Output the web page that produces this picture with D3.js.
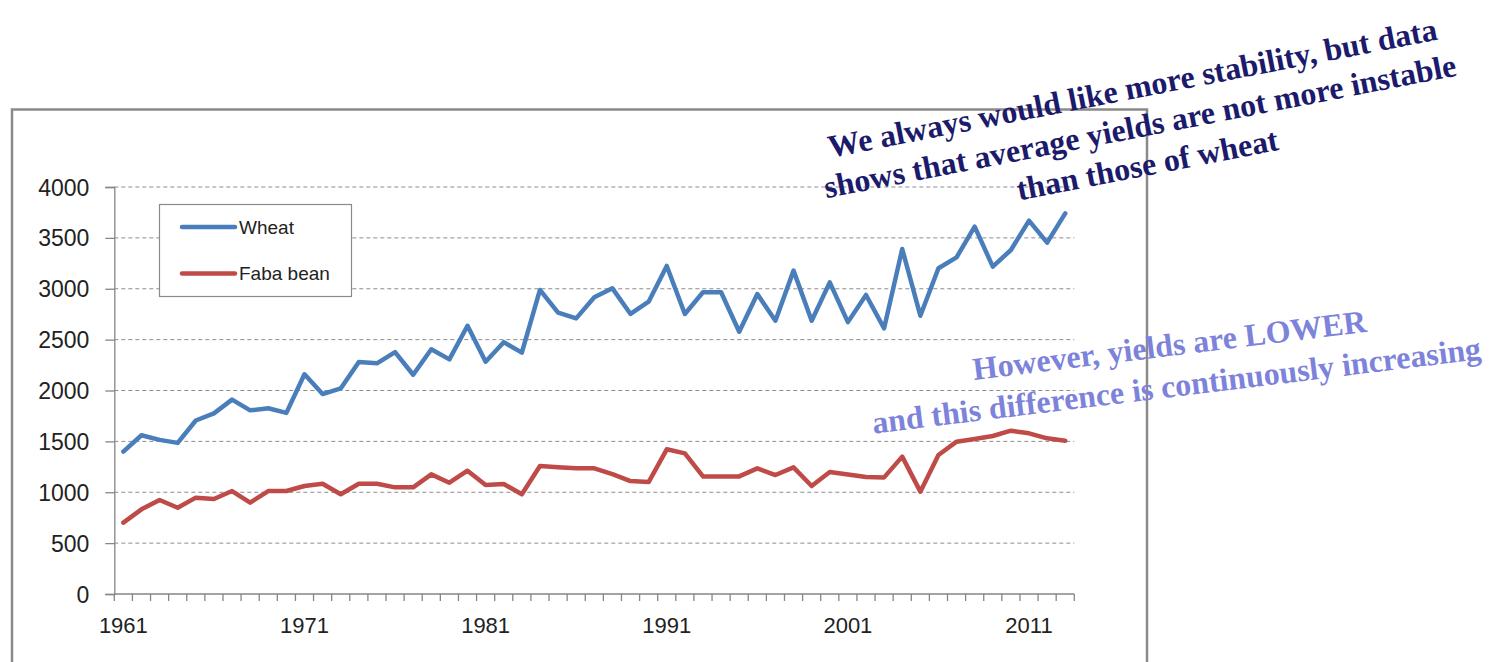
<!DOCTYPE html>
<html>
<head>
<meta charset="utf-8">
<script src="https://cdn.jsdelivr.net/npm/d3@7"></script>
<style>
  html, body { margin: 0; padding: 0; background: #fff; }
  svg { display: block; }
</style>
</head>
<body>
<svg id="chart" width="1497" height="662"></svg>
<script>
// Yields (kg/ha), 1961–2013
const years = d3.range(1961, 2014);
const wheat = [
  1400, 1560, 1515, 1485, 1705, 1775, 1910, 1805, 1825, 1780,
  2160, 1965, 2020, 2280, 2267, 2378, 2155, 2405, 2306, 2636,
  2283, 2475, 2372, 2988, 2765, 2709, 2916, 3004, 2752, 2873,
  3224, 2752, 2965, 2965, 2578, 2948, 2686, 3178, 2686, 3063,
  2672, 2939, 2611, 3391, 2735, 3201, 3309, 3610, 3217, 3381,
  3669, 3453, 3741
];
const fabaBean = [
  701, 832, 924, 848, 947, 934, 1012, 898, 1012, 1012,
  1061, 1084, 980, 1084, 1084, 1048, 1048, 1176, 1094, 1212,
  1071, 1081, 980, 1258, 1245, 1235, 1235, 1179, 1110, 1100,
  1422, 1382, 1156, 1156, 1156, 1235, 1169, 1245, 1061, 1199,
  1174, 1150, 1146, 1350, 1006, 1366, 1497, 1523, 1553, 1605,
  1579, 1530, 1507
];
const seriesNames = ["Wheat", "Faba bean"];
const seriesColors = ["#4a7ebb", "#be4b48"];
const yTicks = [0, 500, 1000, 1500, 2000, 2500, 3000, 3500, 4000];
const xLabelYears = [1961, 1971, 1981, 1991, 2001, 2011];
const noteTop = [
  "We always would like more stability, but data",
  "shows that average yields are not more instable",
  "than those of wheat"
];
const noteBottom = [
  "However, yields are LOWER",
  "and this difference is continuously increasing"
];

const svg = d3.select("#chart");
const axisColor = "#868686";
const labelFont = "'Liberation Sans', Arial, sans-serif";
const noteFont = "'Liberation Serif', 'Times New Roman', serif";

// Outer chart frame
svg.append("path")
  .attr("d", "M12,662 V109.5 H1147 V662")
  .attr("fill", "none")
  .attr("stroke", "#8a8a8a")
  .attr("stroke-width", 2.5);

const plotLeft = 114.3, plotRight = 1074.3;
const x = d3.scaleBand().domain(years).range([plotLeft, plotRight]);
const y = d3.scaleLinear().domain([0, 4000]).range([594, 187]);
const cx = yr => x(yr) + x.bandwidth() / 2;

// Horizontal dashed gridlines
svg.append("g").selectAll("line")
  .data(yTicks.filter(v => v > 0))
  .join("line")
  .attr("x1", plotLeft).attr("x2", plotRight)
  .attr("y1", d => y(d)).attr("y2", d => y(d))
  .attr("stroke", "#8c8c8c")
  .attr("stroke-width", 1)
  .attr("stroke-dasharray", "4,3");

// Y axis
const yAxis = d3.axisLeft(y)
  .tickValues(yTicks)
  .tickFormat(d3.format("d"))
  .tickSize(9)
  .tickPadding(16);
svg.append("g")
  .attr("transform", `translate(${plotLeft},0)`)
  .call(yAxis)
  .call(g => g.select(".domain").attr("stroke", axisColor).attr("stroke-width", 1.3))
  .call(g => g.selectAll(".tick line").attr("stroke", axisColor).attr("stroke-width", 1.3))
  .call(g => g.selectAll(".tick text")
    .attr("font-family", labelFont).attr("font-size", 23).attr("fill", "#222")
    .attr("dy", "0.35em"));

// X axis: tick marks between categories, labels every ten years
const xAxisG = svg.append("g");
xAxisG.append("line")
  .attr("x1", plotLeft).attr("x2", plotRight)
  .attr("y1", y(0)).attr("y2", y(0))
  .attr("stroke", axisColor).attr("stroke-width", 1.3);
xAxisG.selectAll("line.tk")
  .data(years.concat([years[years.length - 1] + 1]))
  .join("line")
  .attr("class", "tk")
  .attr("x1", (d, i) => plotLeft + i * x.bandwidth())
  .attr("x2", (d, i) => plotLeft + i * x.bandwidth())
  .attr("y1", y(0)).attr("y2", y(0) + 7)
  .attr("stroke", axisColor).attr("stroke-width", 1.3);
xAxisG.selectAll("text")
  .data(xLabelYears)
  .join("text")
  .attr("x", d => cx(d))
  .attr("y", 633)
  .attr("text-anchor", "middle")
  .attr("font-family", labelFont)
  .attr("font-size", 22)
  .attr("fill", "#222")
  .text(d => d);

// Series lines
const line = d3.line()
  .x((d, i) => cx(years[i]))
  .y(d => y(d));

[wheat, fabaBean].forEach((vals, k) => {
  svg.append("path")
    .datum(vals)
    .attr("d", line)
    .attr("fill", "none")
    .attr("stroke", seriesColors[k])
    .attr("stroke-width", 4.5)
    .attr("stroke-linejoin", "round")
    .attr("stroke-linecap", "round");
});

// Legend
const legend = svg.append("g");
legend.append("rect")
  .attr("x", 159.5).attr("y", 204.5)
  .attr("width", 192).attr("height", 92)
  .attr("fill", "#fff")
  .attr("stroke", "#8a8a8a").attr("stroke-width", 1.2);
seriesNames.forEach((name, k) => {
  const ly = 227 + k * 46.5;
  legend.append("line")
    .attr("x1", 182).attr("x2", 235)
    .attr("y1", ly).attr("y2", ly)
    .attr("stroke", seriesColors[k])
    .attr("stroke-width", 4.5)
    .attr("stroke-linecap", "round");
  legend.append("text")
    .attr("x", 239).attr("y", ly + 6.5)
    .attr("font-family", labelFont)
    .attr("font-size", 19)
    .attr("fill", "#222")
    .text(name);
});

// Annotations
const topNote = svg.append("g")
  .attr("transform", "translate(1140,127) rotate(-11)");
topNote.selectAll("text")
  .data(noteTop)
  .join("text")
  .attr("x", 0)
  .attr("y", (d, i) => (i - 1) * 39 + 10)
  .attr("text-anchor", "middle")
  .attr("font-family", noteFont)
  .attr("font-weight", "bold")
  .attr("font-size", 32)
  .attr("fill", "#1b1a6b")
  .text(d => d);

const bottomNote = svg.append("g")
  .attr("transform", "translate(1174,366) rotate(-7)");
bottomNote.selectAll("text")
  .data(noteBottom)
  .join("text")
  .attr("x", (d, i) => i === 0 ? -2 : 0)
  .attr("y", (d, i) => (i - 0.5) * 41 + 10)
  .attr("text-anchor", "middle")
  .attr("font-family", noteFont)
  .attr("font-weight", "bold")
  .attr("font-size", 32)
  .attr("fill", "#7d82db")
  .text(d => d);
</script>
</body>
</html>
